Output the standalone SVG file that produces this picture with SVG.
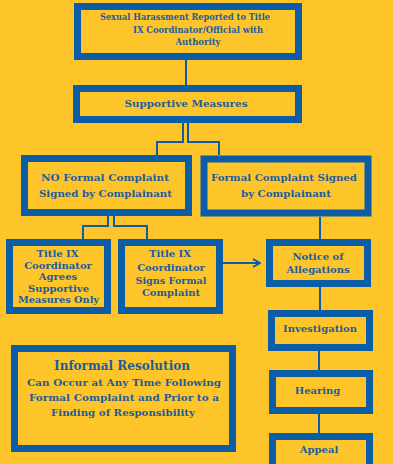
<svg xmlns="http://www.w3.org/2000/svg" width="393" height="464" viewBox="0 0 393 464">
<defs>
<style>
.box{fill:#FEC52B;stroke:#0A5DA6;stroke-width:7}
.t{font-family:"DejaVu Serif","Liberation Serif",serif;font-weight:bold;fill:#1D5C9C;text-anchor:middle;font-size:10px}
.c{fill:none;stroke:#0A5DA6;stroke-width:2}
</style>
<marker id="arr" viewBox="0 0 10 10" refX="9" refY="5" markerWidth="10" markerHeight="10" markerUnits="userSpaceOnUse" orient="auto">
<path d="M2,1 L9,5 L2,9" fill="none" stroke="#0A5DA6" stroke-width="2"/>
</marker>
</defs>
<rect width="393" height="464" fill="#FEC52B"/>
<g id="connectors">
<path class="c" d="M186,60 V85"/>
<path class="c" d="M183,123 V142 H157 V155"/>
<path class="c" d="M188,123 V142 H219 V155"/>
<path class="c" d="M108,216 V226 H83 V239"/>
<path class="c" d="M114,216 V226 H147 V239"/>
<path class="c" d="M320,217 V239"/>
<path class="c" d="M223,263 H260" marker-end="url(#arr)"/>
<path class="c" d="M320,287 V310"/>
<path class="c" d="M319,351 V370"/>
<path class="c" d="M319,414 V433"/>
</g>
<g id="reported">
<rect class="box" x="77.5" y="6.5" width="221" height="50"/>
<text class="t" style="font-size:9px" x="185" y="20" textLength="170" lengthAdjust="spacingAndGlyphs">Sexual Harassment Reported to  Title</text>
<text class="t" style="font-size:9px" x="198" y="33" textLength="130" lengthAdjust="spacingAndGlyphs">IX Coordinator/Official with</text>
<text class="t" style="font-size:9px" x="198" y="45" textLength="45" lengthAdjust="spacingAndGlyphs">Authority</text>
</g>
<g id="supportive">
<rect class="box" x="76.5" y="88.5" width="222" height="31"/>
<text class="t" x="186" y="107" textLength="123" lengthAdjust="spacingAndGlyphs">Supportive Measures</text>
</g>
<g id="noformal">
<rect class="box" x="24.5" y="158.5" width="164" height="54"/>
<text class="t" x="105" y="181" textLength="128" lengthAdjust="spacingAndGlyphs">NO  Formal Complaint</text>
<text class="t" x="105.5" y="197" textLength="133" lengthAdjust="spacingAndGlyphs">Signed by Complainant</text>
</g>
<g id="formal">
<rect class="box" x="204" y="159" width="164" height="54"/>
<text class="t" x="284" y="181" textLength="146" lengthAdjust="spacingAndGlyphs">Formal Complaint Signed</text>
<text class="t" x="286" y="197" textLength="90" lengthAdjust="spacingAndGlyphs">by Complainant</text>
</g>
<g id="agrees">
<rect class="box" x="9.5" y="242.5" width="98" height="68"/>
<text class="t" x="57.5" y="257">Title IX</text>
<text class="t" x="58" y="269">Coordinator</text>
<text class="t" x="58" y="280">Agrees</text>
<text class="t" x="58.5" y="291.5">Supportive</text>
<text class="t" x="58.5" y="303" textLength="81" lengthAdjust="spacingAndGlyphs">Measures Only</text>
</g>
<g id="signs">
<rect class="box" x="121.5" y="242.5" width="98" height="68"/>
<text class="t" x="170" y="257">Title IX</text>
<text class="t" x="171" y="271">Coordinator</text>
<text class="t" x="171" y="284" textLength="71" lengthAdjust="spacingAndGlyphs">Signs Formal</text>
<text class="t" x="171" y="296">Complaint</text>
</g>
<g id="notice">
<rect class="box" x="269.5" y="242.5" width="98" height="41"/>
<text class="t" x="318" y="260">Notice of</text>
<text class="t" x="318" y="273">Allegations</text>
</g>
<g id="investigation">
<rect class="box" x="271.5" y="313.5" width="98" height="34"/>
<text class="t" x="320" y="332">Investigation</text>
</g>
<g id="hearing">
<rect class="box" x="272.5" y="373.5" width="97" height="37"/>
<text class="t" x="317.5" y="394">Hearing</text>
</g>
<g id="appeal">
<rect class="box" x="272.5" y="436.5" width="97" height="40"/>
<text class="t" x="319" y="453">Appeal</text>
</g>
<g id="informal">
<rect class="box" x="14.5" y="348.5" width="218" height="100"/>
<text class="t" style="font-size:13px" x="122" y="370" textLength="136" lengthAdjust="spacingAndGlyphs">Informal Resolution</text>
<text class="t" x="124" y="386" textLength="194" lengthAdjust="spacingAndGlyphs">Can Occur at Any Time Following</text>
<text class="t" x="124" y="401" textLength="190" lengthAdjust="spacingAndGlyphs">Formal Complaint and Prior to a</text>
<text class="t" x="123" y="416" textLength="144" lengthAdjust="spacingAndGlyphs">Finding of Responsibility</text>
</g>
</svg>
